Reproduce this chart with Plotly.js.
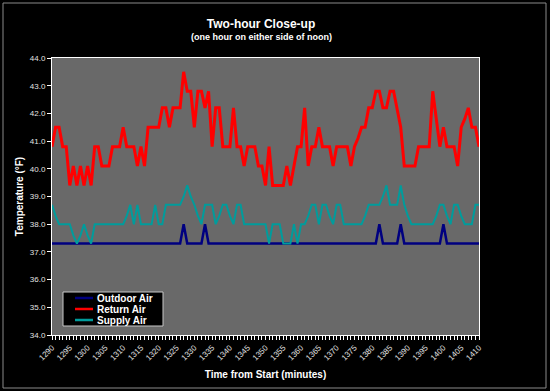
<!DOCTYPE html>
<html>
<head>
<meta charset="utf-8">
<script src="https://cdn.plot.ly/plotly-3.0.1.min.js"></script>
<style>
html,body{margin:0;padding:0;background:#000;}
#chart{width:550px;height:391px;}
</style>
</head>
<body>
<div id="chart"></div>
<script>
// Time from start (minutes)
const startMinute = 1290;
const endMinute = 1410;
const minutes = [];
for (let m = startMinute; m <= endMinute; m++) minutes.push(m);

const tickLabels = ["1290","1295","1300","1305","1310","1315","1320","1325","1330","1335","1340","1345","1350","1355","1360","1365","1370","1375","1380","1385","1390","1395","1400","1405","1410"];
const yTickLabels = ["34.0","35.0","36.0","37.0","38.0","39.0","40.0","41.0","42.0","43.0","44.0"];

const outdoorAir = [
37.3,37.3,37.3,37.3,37.3,37.3,37.3,37.3,37.3,37.3,
37.3,37.3,37.3,37.3,37.3,37.3,37.3,37.3,37.3,37.3,
37.3,37.3,37.3,37.3,37.3,37.3,37.3,37.3,37.3,37.3,
37.3,37.3,37.3,37.3,37.3,37.3,37.3,38.0,37.3,37.3,
37.3,37.3,37.3,38.0,37.3,37.3,37.3,37.3,37.3,37.3,
37.3,37.3,37.3,37.3,37.3,37.3,37.3,37.3,37.3,37.3,
37.3,37.3,37.3,37.3,37.3,37.3,37.3,37.3,37.3,37.3,
37.3,37.3,37.3,37.3,37.3,37.3,37.3,37.3,37.3,37.3,
37.3,37.3,37.3,37.3,37.3,37.3,37.3,37.3,37.3,37.3,
37.3,37.3,38.0,37.3,37.3,37.3,37.3,37.3,38.0,37.3,
37.3,37.3,37.3,37.3,37.3,37.3,37.3,37.3,37.3,37.3,
38.0,37.3,37.3,37.3,37.3,37.3,37.3,37.3,37.3,37.3,
37.3];

const returnAir = [
40.8,41.5,41.5,40.8,40.8,39.4,40.1,39.4,40.1,39.4,
40.1,39.4,40.8,40.8,40.1,40.1,40.1,40.8,40.8,40.8,
41.5,40.8,40.8,40.8,40.1,40.8,40.1,41.5,41.5,41.5,
41.5,42.2,42.2,41.5,42.2,42.2,42.2,43.5,42.8,42.8,
41.5,42.8,42.8,42.2,42.8,40.8,42.2,42.2,40.8,40.8,
40.8,42.2,40.8,40.8,40.1,40.8,40.8,40.8,40.1,40.1,
39.4,40.8,39.4,39.4,39.4,39.4,40.1,39.4,40.1,40.8,
40.8,42.2,40.1,40.8,40.8,41.5,40.8,40.8,40.8,40.1,
40.8,40.8,40.8,40.8,40.1,40.8,41.1,41.5,41.5,42.2,
42.2,42.8,42.8,42.2,42.2,42.8,42.8,42.2,41.5,40.1,
40.1,40.1,40.1,40.8,40.8,40.8,40.8,42.8,41.8,40.8,
41.5,40.8,40.8,40.8,40.1,41.5,41.8,42.2,41.5,41.5,
40.8];

const supplyAir = [
38.7,38.3,38.0,38.0,38.0,38.0,37.6,37.3,37.6,38.0,
37.6,37.3,38.0,38.0,38.0,38.0,38.0,38.0,38.0,38.0,
38.0,38.3,38.7,38.0,38.7,38.0,38.0,38.0,38.0,38.7,
38.0,38.0,38.7,38.7,38.7,38.7,38.7,39.0,39.4,39.0,
38.7,38.3,38.0,38.7,38.7,38.7,38.0,38.3,38.7,38.7,
38.3,38.0,38.7,38.7,38.0,38.0,38.0,38.0,38.0,38.0,
38.0,37.3,38.0,38.0,38.0,37.3,37.3,37.3,38.0,37.3,
38.0,38.0,38.3,38.7,38.7,38.0,38.7,38.7,38.3,38.0,
38.7,38.7,38.0,38.0,38.0,38.0,38.0,38.0,38.3,38.7,
38.7,38.7,38.7,39.0,39.4,38.7,38.7,38.7,39.4,38.7,
38.3,38.0,38.0,38.0,38.0,38.0,38.0,38.0,38.3,38.7,
38.7,38.3,38.0,38.7,38.7,38.3,38.0,38.0,38.0,38.7,
38.7];

const seriesNames = ["Outdoor Air", "Return Air", "Supply Air"];
const seriesColors = ["#000080", "#ff0000", "#009c9c"];
const seriesWidths = [2.5, 3, 2];
const seriesValues = [outdoorAir, returnAir, supplyAir];

const FONT = "Liberation Sans, Arial, sans-serif";

const traces = seriesValues.map((vals, k) => ({
  x: minutes,
  y: vals,
  type: "scatter",
  mode: "lines",
  name: seriesNames[k],
  line: {color: seriesColors[k], width: seriesWidths[k]}
}));

const L = 52, R = 71, T = 58, B = 56;
const W = 550, H = 391;
const pw = W - L - R, ph = H - T - B;
const px = x => (x - L) / pw;
const py = y => (H - B - y) / ph;

const annotations = [{
  text: "<b>(one hour on either side of noon)</b>",
  xref: "paper", yref: "paper",
  x: px(261), y: py(36.5),
  xanchor: "center", yanchor: "middle",
  showarrow: false,
  font: {family: FONT, size: 9, color: "#ffffff"}
}];

const shapes = [{
  type: "rect", xref: "paper", yref: "paper",
  x0: px(3), x1: px(546), y0: py(388), y1: py(3),
  line: {color: "#8a8a8a", width: 1}, fillcolor: "rgba(0,0,0,0)", layer: "below"
}, {
  // legend box
  type: "rect", xref: "paper", yref: "paper",
  x0: px(63), x1: px(163), y0: py(326), y1: py(292),
  line: {color: "#c8c8c8", width: 1}, fillcolor: "#000000", layer: "above"
}];

const legendRowY = [298, 309, 320];
seriesNames.forEach((name, k) => {
  shapes.push({
    type: "line", xref: "paper", yref: "paper",
    x0: px(75), x1: px(93), y0: py(legendRowY[k]), y1: py(legendRowY[k]),
    line: {color: seriesColors[k], width: 2.5}, layer: "above"
  });
  annotations.push({
    text: "<b>" + name + "</b>",
    xref: "paper", yref: "paper",
    x: px(95), y: py(legendRowY[k]),
    xanchor: "left", yanchor: "middle",
    showarrow: false,
    font: {family: FONT, size: 10, color: "#ffffff"}
  });
});

const layout = {
  width: W, height: H,
  paper_bgcolor: "#000000",
  plot_bgcolor: "#696969",
  margin: {l: L, r: R, t: T, b: B, pad: 0},
  font: {family: FONT, color: "#ffffff"},
  title: {
    text: "<b>Two-hour Close-up</b>",
    font: {family: FONT, size: 12, color: "#ffffff"},
    x: 261 / W, xanchor: "center",
    y: 1 - 24 / H, yanchor: "middle"
  },
  annotations: annotations,
  shapes: shapes,
  xaxis: {
    range: [startMinute, endMinute],
    tickmode: "linear", tick0: startMinute, dtick: 5,
    tickangle: -45,
    ticks: "outside", ticklen: 4, tickcolor: "#ffffff", tickwidth: 1,
    minor: {dtick: 1, ticks: "outside", ticklen: 4, tickcolor: "#ffffff", tickwidth: 1, showgrid: false},
    showgrid: false, zeroline: false,
    showline: true, linecolor: "#ffffff", linewidth: 1, mirror: true,
    tickfont: {family: FONT, size: 8, color: "#e0e0e0"},
    title: {text: "<b>Time from Start (minutes)</b>", font: {family: FONT, size: 10, color: "#ffffff"}, standoff: 9}
  },
  yaxis: {
    range: [34, 44],
    tickmode: "array",
    tickvals: yTickLabels.map(Number),
    ticktext: yTickLabels,
    ticks: "outside", ticklen: 4, tickcolor: "#ffffff", tickwidth: 1,
    showgrid: false, zeroline: false,
    showline: true, linecolor: "#ffffff", linewidth: 1, mirror: true,
    tickfont: {family: FONT, size: 8, color: "#e0e0e0"},
    title: {text: "<b>Temperature (°F)</b>", font: {family: FONT, size: 10, color: "#ffffff"}, standoff: 4}
  },
  showlegend: false
};

Plotly.newPlot("chart", traces, layout, {displayModeBar: false, staticPlot: true});
</script>
</body>
</html>
